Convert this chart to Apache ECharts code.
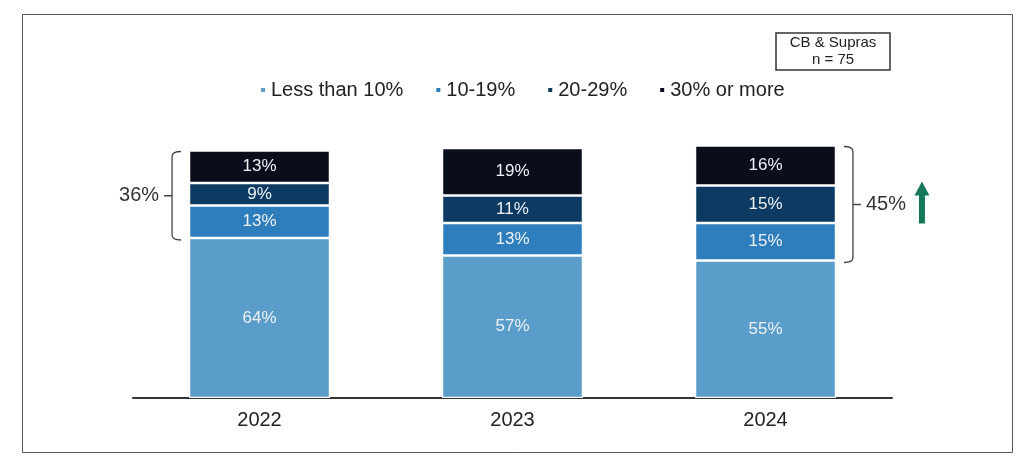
<!DOCTYPE html>
<html>
<head>
<meta charset="utf-8">
<script src="https://cdn.jsdelivr.net/npm/echarts@6/dist/echarts.min.js"></script>
<style>
  html, body { margin: 0; padding: 0; background: #ffffff; }
  #chart { width: 1024px; height: 457px; }
</style>
</head>
<body>
<div id="chart"></div>
<script>
// Share of revenue bands by year (CB & Supras, n = 75)
const categories = ['2022', '2023', '2024'];
const lessThan10 = [64, 57, 55];
const from10to19 = [13, 13, 15];
const from20to29 = [9, 11, 15];
const from30up   = [13, 19, 16];
const seriesNames = ['Less than 10%', '10-19%', '20-29%', '30% or more'];

// Brackets: [category index, bottom value, top value, label, side]
const bracketData = [
  [0, 64, 99, '36%', 'left'],
  [2, 55, 101, '45%', 'right']
];

const colors = ['#5b9dca', '#2e7dbd', '#0d3a62', '#0a0e1c'];
const font = '"Liberation Sans", Arial, sans-serif';
const BAR_RATIO = 0.557;

const chart = echarts.init(document.getElementById('chart'), null, { renderer: 'canvas' });

function barSeries(name, data, idx) {
  return {
    name: name,
    type: 'bar',
    stack: 'total',
    barWidth: (BAR_RATIO * 100) + '%',
    data: data,
    itemStyle: { color: colors[idx], borderColor: '#ffffff', borderWidth: 1.2 },
    label: {
      show: true,
      position: 'inside',
      formatter: '{c}%',
      color: '#eef2f7',
      fontFamily: font,
      fontSize: 17
    },
    emphasis: { disabled: true }
  };
}

function renderBracket(params, api) {
  const idx = api.value(0);
  const lo = api.value(1);
  const hi = api.value(2);
  const label = bracketData[params.dataIndex][3];
  const side = bracketData[params.dataIndex][4];
  const pLo = api.coord([idx, lo]);
  const pHi = api.coord([idx, hi]);
  const halfBar = api.size([1, 0])[0] * BAR_RATIO / 2;
  const y1 = pHi[1] + 1;
  const y2 = pLo[1] + 2;
  const ym = (y1 + y2) / 2;
  const dir = side === 'left' ? -1 : 1;
  const x = pLo[0] + dir * (halfBar + 17);
  const hook = -dir * 9;
  const path =
    'M' + (x + hook) + ' ' + y1 +
    ' Q' + x + ' ' + y1 + ' ' + x + ' ' + (y1 + 5) +
    ' L' + x + ' ' + (y2 - 5) +
    ' Q' + x + ' ' + y2 + ' ' + (x + hook) + ' ' + y2 +
    ' M' + x + ' ' + ym + ' L' + (x + dir * 8) + ' ' + ym;
  const children = [
    {
      type: 'path',
      shape: { pathData: path },
      style: { stroke: '#444', lineWidth: 1.3, fill: null }
    },
    {
      type: 'text',
      style: {
        x: x + dir * 13,
        y: ym,
        text: label,
        fill: '#333',
        font: '20px ' + font,
        align: side === 'left' ? 'right' : 'left',
        verticalAlign: 'middle'
      }
    }
  ];
  if (side === 'right') {
    // green upward arrow next to the total
    const ax = x + 69;
    const top = ym - 23;
    const bottom = ym + 19;
    children.push({
      type: 'polygon',
      shape: {
        points: [
          [ax, top], [ax + 7.5, top + 14], [ax + 3, top + 14], [ax + 3, bottom],
          [ax - 3, bottom], [ax - 3, top + 14], [ax - 7.5, top + 14]
        ]
      },
      style: { fill: '#16785a' }
    });
  }
  return { type: 'group', children: children };
}

const option = {
  backgroundColor: '#ffffff',
  animation: false,
  color: colors,
  grid: { left: 133, right: 132, top: 123, bottom: 59 },
  legend: {
    data: seriesNames,
    left: 254,
    top: 75,
    icon: 'rect',
    itemWidth: 6,
    itemHeight: 6,
    itemGap: 31,
    textStyle: { fontFamily: font, fontSize: 20, color: '#222' },
    selectedMode: false
  },
  xAxis: {
    type: 'category',
    data: categories,
    axisLine: { lineStyle: { color: '#333', width: 2 } },
    axisTick: { show: false },
    axisLabel: { fontFamily: font, fontSize: 20, color: '#222', margin: 12 }
  },
  yAxis: {
    type: 'value',
    min: 0,
    max: 110,
    show: false,
    splitLine: { show: false }
  },
  series: [
    barSeries(seriesNames[0], lessThan10, 0),
    barSeries(seriesNames[1], from10to19, 1),
    barSeries(seriesNames[2], from20to29, 2),
    barSeries(seriesNames[3], from30up, 3),
    {
      type: 'custom',
      renderItem: renderBracket,
      data: bracketData.map(d => [d[0], d[1], d[2]]),
      encode: { x: 0, y: [1, 2] },
      silent: true,
      z: 5
    }
  ],
  graphic: [
    {
      type: 'rect',
      shape: { x: 22.5, y: 14.5, width: 990, height: 438 },
      style: { fill: null, stroke: '#555', lineWidth: 1 },
      silent: true
    },
    {
      type: 'rect',
      shape: { x: 776, y: 33, width: 114, height: 37 },
      style: { fill: '#ffffff', stroke: '#333', lineWidth: 1.5 },
      silent: true
    },
    {
      type: 'text',
      style: {
        x: 833, y: 43, text: 'CB & Supras', fill: '#222',
        font: '15px ' + font, align: 'center', verticalAlign: 'middle'
      },
      silent: true
    },
    {
      type: 'text',
      style: {
        x: 833, y: 60, text: 'n = 75', fill: '#222',
        font: '15px ' + font, align: 'center', verticalAlign: 'middle'
      },
      silent: true
    }
  ]
};

chart.setOption(option);
</script>
</body>
</html>
